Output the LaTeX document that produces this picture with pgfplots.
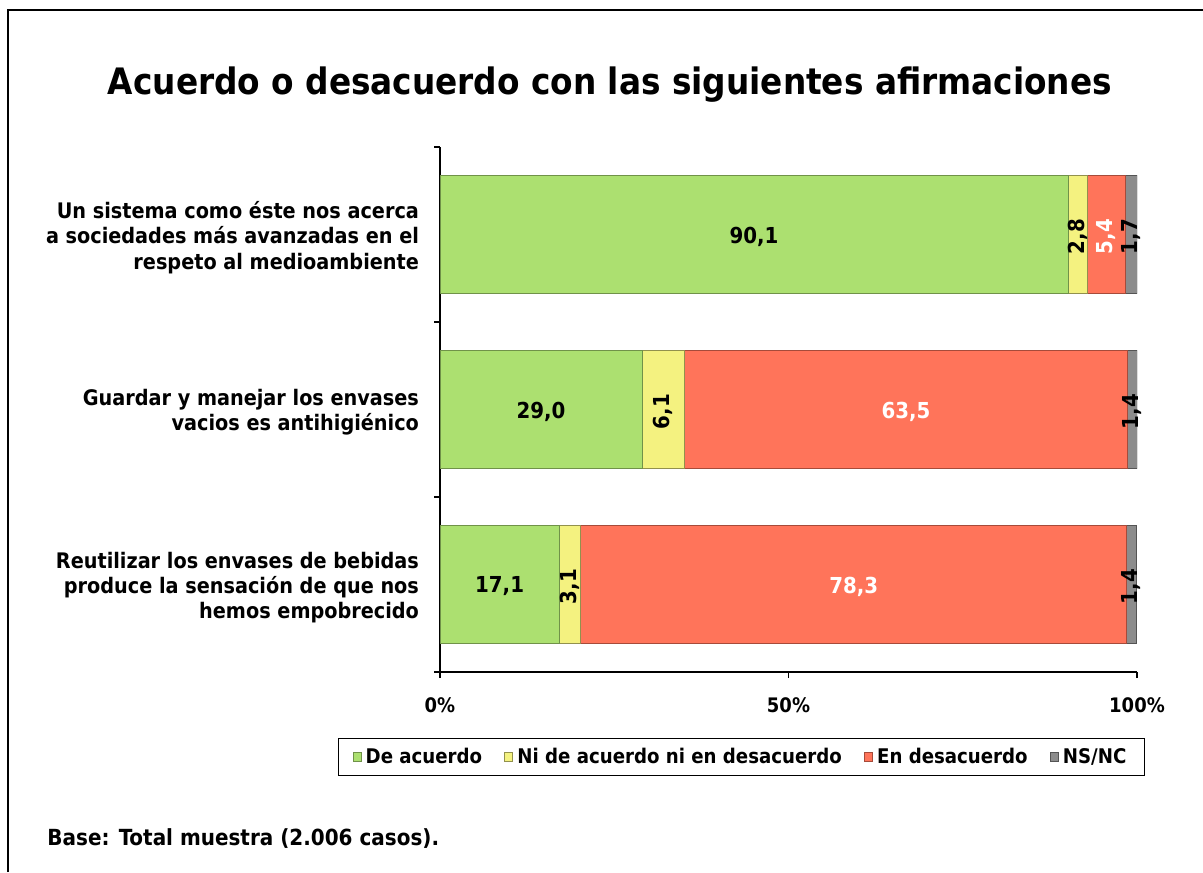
\documentclass[border=0pt]{standalone}
\usepackage{fontspec}
\setmainfont{DejaVu Sans Condensed}
\usepackage{pgfplots}
\pgfplotsset{compat=1.18}
\definecolor{cGreen}{RGB}{172,224,112}
\definecolor{cYellow}{RGB}{244,242,128}
\definecolor{cRed}{RGB}{255,116,90}
\definecolor{cGray}{RGB}{140,140,140}
\pgfplotsset{
  myleg/.style={legend image code/.code={\draw[##1] (0pt,-2.2pt) rectangle (4pt,2.2pt);}},
}
\begin{document}
\begin{tikzpicture}
\useasboundingbox (0pt,0pt) rectangle (601.5pt,436pt);
\draw[line width=1pt] (4pt,0pt) -- (4pt,431pt) -- (601.5pt,431pt);
\node[font=\fontsize{18.2}{21}\selectfont\bfseries] at (305pt,393.5pt) {Acuerdo o desacuerdo con las siguientes afirmaciones};
\node[anchor=west,inner sep=0pt,font=\fontsize{11.1}{13}\selectfont\bfseries] at (23.5pt,16.5pt) {Base: Total muestra (2.006 casos).};
\begin{axis}[
  at={(220pt,100pt)}, anchor=south west,
  scale only axis, width=348.5pt, height=262.5pt,
  xbar stacked, bar width=59pt,
  xmin=0, xmax=100, ymin=-0.5, ymax=2.5,
  axis lines*=left,
  axis line style={line width=1pt},
  tick align=outside,
  major tick length=3pt,
  tick style={line width=0.8pt, black},
  xtick={0,50,100},
  xticklabels={0\%,50\%,100\%},
  xticklabel style={font=\fontsize{10}{12}\selectfont\bfseries, yshift=-6.5pt},
  ytick={-0.5,0.5,1.5,2.5},
  yticklabels={,,,},
  extra y ticks={0,1,2},
  extra y tick labels={{Reutilizar los envases de bebidas\\produce la sensación de que nos\\hemos empobrecido},{Guardar y manejar los envases\\vacios es antihigiénico},{Un sistema como éste nos acerca\\a sociedades más avanzadas en el\\respeto al medioambiente}},
  extra y tick style={major tick length=0pt, yticklabel style={align=right, font=\fontsize{10.7}{12.6}\selectfont\bfseries, xshift=-7pt, yshift=-1.5pt}},
  legend columns=4,
  legend style={at={(0.4325,-0.162)}, anchor=center, draw=black, line width=0.6pt,
    font=\fontsize{10.1}{12}\selectfont\bfseries, inner xsep=7pt, inner ysep=2.5pt,
    /tikz/every even column/.append style={column sep=9pt}},
  legend cell align=left,
]
\addplot[fill=cGreen, draw=cGreen!65!black, myleg] coordinates {(17.1,0) (29.0,1) (90.1,2)};
\addplot[fill=cYellow, draw=cYellow!60!black, myleg] coordinates {(3.1,0) (6.1,1) (2.8,2)};
\addplot[fill=cRed, draw=cRed!65!black, myleg] coordinates {(78.3,0) (63.5,1) (5.4,2)};
\addplot[fill=cGray, draw=cGray!60!black, myleg] coordinates {(1.4,0) (1.4,1) (1.7,2)};
\legend{De acuerdo,Ni de acuerdo ni en desacuerdo,En desacuerdo,NS/NC}
\end{axis}
\begin{axis}[
  at={(220pt,100pt)}, anchor=south west,
  scale only axis, width=348.5pt, height=262.5pt,
  xmin=0, xmax=100, ymin=-0.5, ymax=2.5,
  hide axis,
  nodes near coords,
  point meta=explicit symbolic,
  every node near coord/.append style={anchor=center, font=\fontsize{11}{13}\selectfont\bfseries, yshift=-1pt},
]
\addplot[only marks, mark=none, black] table[meta=l] {
x y l
45.05 2 90,1
14.5 1 29,0
8.55 0 17,1
};
\addplot[only marks, mark=none, nodes near coords style={white}] table[meta=l] {
x y l
66.85 1 63,5
59.35 0 78,3
};
\addplot[only marks, mark=none, nodes near coords style={black, rotate=90}] table[meta=l] {
x y l
91.5 2 2,8
99.15 2 1,7
32.05 1 6,1
99.3 1 1,4
18.65 0 3,1
99.2 0 1,4
};
\addplot[only marks, mark=none, nodes near coords style={white, rotate=90}] table[meta=l] {
x y l
95.6 2 5,4
};
\end{axis}
\end{tikzpicture}
\end{document}
